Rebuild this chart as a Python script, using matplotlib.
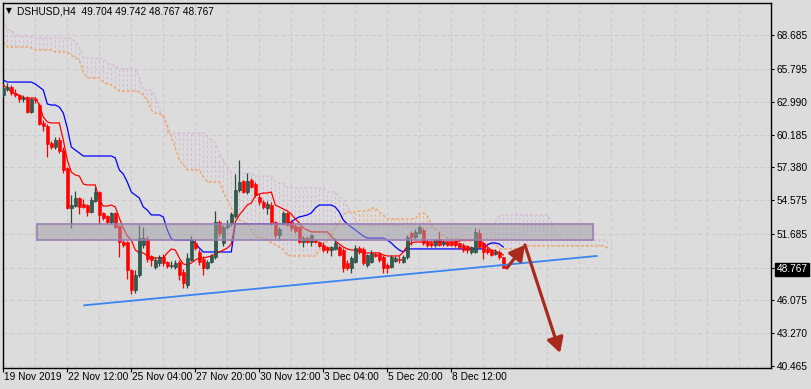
import matplotlib
matplotlib.use("Agg")
import matplotlib.pyplot as plt
import numpy as np
from matplotlib.patches import Rectangle, FancyArrowPatch
from matplotlib.transforms import blended_transform_factory

plt.rcParams['font.family'] = ['Liberation Sans', 'DejaVu Sans']
plt.rcParams['lines.scale_dashes'] = False

# ---- data (DSHUSD, H4) ----
opens = [63.56, 64.10, 64.25, 63.75, 63.55, 63.25, 63.30, 62.10, 63.20, 62.75,
         61.20, 60.95, 59.50, 59.15, 59.70, 58.90, 57.30, 53.90, 54.10, 54.80,
         54.30, 54.20, 53.60, 54.50, 55.30, 53.50, 53.20, 52.70, 53.50, 52.40,
         51.00, 51.00, 48.60, 46.90, 48.20, 50.80, 51.30, 49.80, 48.90, 49.20,
         49.70, 49.30, 49.00, 48.90, 49.30, 48.50, 47.35, 49.50, 50.90, 50.20,
         49.60, 48.80, 49.30, 49.70, 52.70, 50.90, 52.30, 52.60, 53.20, 55.50,
         56.20, 55.30, 56.30, 56.00, 54.90, 54.40, 53.90, 54.20, 52.70, 51.60,
         52.60, 53.50, 52.70, 52.40, 52.30, 51.00, 51.35, 51.00, 51.20, 51.00,
         50.80, 50.60, 50.30, 50.40, 50.60, 50.30, 49.20, 48.80, 49.30, 50.50,
         50.40, 49.10, 49.30, 50.00, 50.00, 49.75, 49.10, 48.90, 49.40, 49.55,
         49.35, 49.70, 51.80, 51.45, 51.80, 52.05, 51.00, 50.95, 50.75, 51.30,
         50.85, 51.00, 51.00, 51.10, 50.90, 50.80, 50.70, 50.20, 50.20, 51.80,
         50.90, 50.45, 50.30, 50.00, 50.20, 49.704]
highs = [64.30, 64.60, 64.40, 64.10, 63.60, 63.60, 63.50, 63.30, 63.40, 62.90,
         61.40, 61.10, 59.60, 60.00, 60.00, 59.10, 57.40, 55.00, 55.40, 54.90,
         54.70, 54.30, 54.90, 55.70, 55.40, 53.60, 53.30, 53.60, 53.60, 52.50,
         51.20, 51.10, 48.70, 48.60, 52.50, 52.30, 51.50, 49.90, 49.70, 49.90,
         50.00, 49.40, 49.40, 49.50, 49.50, 48.70, 50.10, 51.50, 51.20, 50.40,
         49.80, 49.50, 50.00, 53.70, 52.90, 52.50, 52.90, 53.60, 56.80, 58.00,
         56.30, 56.90, 56.50, 56.10, 55.10, 54.60, 54.50, 54.40, 52.80, 52.30,
         53.70, 53.60, 52.90, 52.60, 52.40, 51.50, 51.50, 51.70, 51.30, 51.10,
         51.00, 50.70, 50.70, 51.40, 50.80, 50.50, 49.50, 49.80, 50.80, 50.70,
         50.60, 50.00, 50.30, 50.20, 50.20, 49.90, 49.20, 49.90, 49.80, 49.80,
         49.90, 51.60, 52.00, 52.10, 52.45, 52.20, 51.20, 51.10, 51.30, 51.90,
         51.15, 51.10, 51.15, 51.20, 51.00, 50.90, 50.80, 50.70, 52.20, 52.10,
         51.00, 50.60, 50.40, 50.40, 50.30, 49.742]
lows = [63.40, 63.90, 63.60, 63.40, 63.00, 63.00, 62.00, 62.00, 62.90, 61.00,
        60.50, 58.30, 59.00, 59.00, 58.60, 56.90, 53.80, 52.20, 54.00, 53.40,
        53.90, 53.20, 53.50, 54.40, 52.60, 52.90, 52.60, 52.60, 52.20, 49.70,
        50.60, 47.90, 46.60, 46.70, 48.00, 50.50, 49.30, 49.00, 48.70, 49.00,
        49.00, 48.80, 48.80, 48.70, 47.80, 47.10, 47.10, 49.40, 50.30, 49.10,
        48.20, 48.70, 49.20, 49.60, 51.50, 50.70, 52.10, 52.40, 53.10, 55.30,
        55.20, 55.10, 55.60, 54.90, 54.20, 53.80, 53.40, 52.50, 51.40, 51.30,
        52.50, 52.40, 52.00, 51.80, 50.90, 50.60, 50.90, 50.70, 50.90, 50.60,
        50.20, 50.10, 49.80, 50.30, 49.80, 48.50, 48.60, 48.40, 49.20, 50.00,
        49.10, 48.90, 49.20, 49.70, 49.30, 48.40, 48.35, 48.80, 49.30, 49.25,
        49.20, 49.60, 50.80, 51.30, 51.70, 50.80, 50.60, 50.60, 50.60, 50.70,
        50.70, 50.65, 50.65, 50.60, 50.40, 50.20, 50.10, 50.00, 50.10, 50.50,
        49.60, 50.00, 49.80, 49.90, 49.60, 48.767]
closes = [64.16, 64.25, 63.70, 63.55, 63.20, 63.30, 62.10, 63.20, 63.10, 61.05,
          60.90, 59.40, 59.15, 59.70, 58.80, 57.20, 53.90, 54.20, 54.80, 54.00,
          54.05, 53.60, 54.60, 55.30, 53.30, 53.10, 52.70, 53.50, 52.30, 51.00,
          50.80, 48.60, 46.90, 48.20, 51.40, 51.40, 49.60, 49.50, 49.50, 49.70,
          49.20, 48.95, 49.10, 49.20, 48.20, 47.50, 49.66, 51.20, 50.50, 49.30,
          48.80, 49.30, 49.80, 52.70, 51.80, 52.30, 52.60, 53.40, 55.50, 56.10,
          55.30, 56.20, 55.70, 55.00, 54.40, 54.00, 54.30, 52.70, 51.60, 52.10,
          53.50, 52.50, 52.20, 52.00, 51.00, 51.35, 51.05, 51.60, 51.00, 50.70,
          50.35, 50.30, 50.60, 50.90, 49.90, 48.80, 48.80, 49.65, 50.50, 50.20,
          49.20, 49.90, 50.10, 49.85, 49.50, 48.80, 48.80, 49.75, 49.65, 49.45,
          49.75, 51.45, 51.45, 51.90, 52.30, 50.95, 50.75, 50.75, 51.20, 50.80,
          51.00, 50.80, 50.75, 50.75, 50.60, 50.35, 50.30, 50.60, 51.90, 50.60,
          50.20, 50.15, 49.90, 50.15, 49.75, 48.767]

tenkan = [64.42, 64.16, 63.82, 63.65, 63.56, 63.31, 63.31, 63.31, 63.31, 62.71,
          61.69, 61.26, 61.18, 61.18, 61.18, 59.73, 58.02, 56.99, 56.74, 56.65,
          55.97, 55.89, 55.89, 55.89, 54.61, 54.09, 54.09, 54.18, 54.01, 53.07,
          52.22, 51.53, 51.19, 50.34, 50.09, 50.09, 49.83, 49.66, 49.66, 49.66,
          49.66, 50.09, 50.43, 50.34, 49.66, 49.15, 49.06, 49.23, 49.49, 49.66,
          49.66, 49.74, 49.83, 50.00, 50.17, 50.34, 50.51, 50.85, 52.73, 53.33,
          53.75, 54.18, 54.35, 54.95, 55.12, 55.20, 55.20, 55.29, 54.18, 54.01,
          53.84, 53.67, 53.41, 52.99, 52.64, 52.22, 52.05, 51.88, 51.88, 51.88,
          51.88, 51.88, 51.53, 51.11, 50.85, 50.60, 50.43, 50.34, 50.34, 50.26,
          50.09, 50.09, 50.09, 50.09, 50.09, 49.92, 49.83, 49.83, 49.83, 49.83,
          50.17, 50.68, 50.94, 51.02, 51.02, 51.02, 51.02, 51.02, 51.02, 51.02,
          51.02, 51.02, 51.02, 51.02, 51.11, 51.19, 51.19, 51.19, 51.19, 51.19,
          50.94, 50.60, 50.34, 50.26, 50.09, 49.92]
kijun = [64.85, 64.67, 64.67, 64.67, 64.67, 64.67, 64.67, 64.67, 64.50, 64.25,
         63.99, 62.80, 62.71, 62.71, 62.54, 62.03, 60.75, 59.13, 58.87, 58.62,
         58.36, 58.36, 58.36, 58.36, 58.36, 58.36, 58.36, 58.36, 58.19, 57.17,
         56.82, 56.14, 55.29, 55.03, 54.78, 54.01, 53.75, 53.33, 53.33, 53.33,
         53.16, 52.05, 51.28, 51.19, 51.19, 51.19, 51.19, 51.19, 50.94, 50.51,
         50.17, 50.17, 50.17, 50.17, 50.17, 50.17, 50.17, 50.17, 52.56, 52.56,
         52.56, 52.56, 52.56, 52.56, 52.56, 52.56, 52.56, 52.56, 52.56, 52.56,
         52.56, 52.56, 52.73, 52.99, 53.16, 53.24, 53.33, 53.50, 53.92, 54.18,
         54.18, 54.18, 54.18, 54.01, 53.58, 52.90, 52.56, 52.30, 52.05, 51.79,
         51.53, 51.36, 51.36, 51.36, 51.36, 51.36, 51.19, 50.94, 50.60, 50.34,
         50.17, 50.43, 50.43, 50.43, 50.43, 50.43, 50.43, 50.43, 50.43, 50.43,
         50.43, 50.43, 50.43, 50.43, 50.43, 50.43, 50.43, 50.43, 50.43, 50.43,
         50.43, 50.77, 50.94, 50.94, 50.85, 50.60]

# senkou spans, already shifted 26 bars ahead (152 points)
span_a = [68.09, 67.66, 67.66, 67.66, 67.66, 67.66, 67.66, 67.58, 67.41, 67.41,
          67.41, 67.41, 67.41, 67.23, 67.23, 67.23, 67.23, 66.98, 66.72, 66.55,
          65.53, 65.02, 65.02, 65.02, 65.02, 64.67, 64.50, 64.42, 64.16, 63.90,
          63.90, 63.90, 63.90, 63.90, 63.82, 63.56, 63.14, 62.29, 62.03, 61.94,
          61.86, 61.00, 59.98, 59.04, 58.02, 57.59, 57.17, 57.17, 57.17, 57.17,
          56.57, 56.14, 56.14, 56.14, 56.14, 55.29, 54.61, 53.92, 53.33, 52.90,
          52.73, 52.56, 52.05, 51.53, 51.36, 51.36, 51.19, 50.94, 50.77, 50.60,
          50.34, 49.92, 49.83, 49.83, 49.83, 49.83, 49.83, 49.83, 49.83, 50.34,
          50.77, 51.11, 51.53, 52.22, 52.73, 53.33, 53.58, 53.58, 53.58, 53.67,
          53.67, 53.67, 53.92, 53.92, 53.58, 53.33, 52.99, 52.99, 52.99, 52.99,
          52.99, 52.99, 52.99, 52.99, 53.41, 53.50, 53.24, 52.56, 52.05, 51.79,
          51.53, 51.36, 51.36, 51.36, 51.36, 51.11, 51.11, 51.11, 51.11, 50.85,
          50.85, 50.85, 50.85, 50.85, 50.43, 50.43, 50.43, 50.43, 50.43, 50.43,
          50.68, 50.68, 50.68, 50.68, 50.68, 50.68, 50.68, 50.68, 50.68, 50.68,
          50.68, 50.68, 50.68, 50.68, 50.68, 50.68, 50.68, 50.68, 50.68, 50.68,
          50.68, 50.51]
span_b = [69.79, 69.11, 69.11, 68.69, 68.60, 68.60, 68.60, 68.60, 68.43, 68.43,
          68.43, 68.43, 68.43, 68.43, 68.43, 68.43, 68.43, 68.43, 68.09, 67.66,
          66.72, 66.72, 66.72, 66.72, 66.72, 66.72, 66.30, 66.13, 66.13, 65.78,
          65.78, 65.78, 65.78, 65.78, 65.10, 63.99, 63.99, 63.99, 63.39, 62.29,
          61.60, 60.32, 60.32, 60.32, 60.32, 60.32, 60.32, 60.32, 60.32, 60.32,
          60.32, 59.98, 59.73, 59.47, 58.62, 58.02, 57.33, 56.91, 56.91, 56.91,
          56.91, 56.91, 56.91, 56.65, 56.65, 56.65, 56.65, 56.65, 56.14, 56.06,
          56.06, 55.63, 55.63, 55.63, 55.63, 55.63, 55.63, 55.63, 55.63, 55.63,
          55.63, 55.29, 55.29, 55.29, 54.86, 54.61, 54.09, 53.50, 52.90, 52.39,
          52.39, 52.39, 52.39, 52.39, 52.39, 52.39, 52.39, 52.39, 52.39, 52.39,
          52.39, 52.22, 52.22, 52.22, 52.22, 52.22, 52.22, 52.22, 52.22, 52.22,
          52.22, 52.22, 52.22, 52.22, 52.22, 52.22, 52.22, 52.22, 52.22, 52.22,
          52.22, 52.22, 52.22, 52.73, 53.33, 53.33, 53.33, 53.33, 53.33, 53.33,
          53.33, 53.33, 53.33, 53.33, 53.33, 53.33, 53.33, 52.73, 52.05, 51.36,
          51.19, 51.19, 51.19, 51.19, 51.19, 51.19, 51.19, 51.19, 51.19, 51.19,
          51.19, 51.19]

date_bars = [0, 16, 32, 48, 64, 80, 96, 112]
date_labels = ['19 Nov 2019', '22 Nov 12:00', '25 Nov 04:00', '27 Nov 20:00',
               '30 Nov 12:00', '3 Dec 04:00', '5 Dec 20:00', '8 Dec 12:00']
price_ticks = [68.685, 65.795, 62.990, 60.185, 57.380, 54.575, 51.685,
               48.767, 46.075, 43.270, 40.465]
last_price = 48.767

# drawn objects (bar index / price)
zone_x = [8.4, 147.4]
zone_y = [51.19, 52.56]
trend_x = [20.25, 148.35]
trend_y = [45.62, 49.83]
arrow_up = [(125.9, 48.80), (130.4, 50.77)]
arrow_down = [(130.4, 50.77), (139.2, 41.55)]

BG = '#dcdcdc'
fig = plt.figure(figsize=(8.11, 3.89), dpi=100, facecolor=BG)
ax = fig.add_axes([3 / 811, 21 / 389, 768 / 811, 365 / 389])
ax.set_facecolor(BG)
ax.set_xlim(-0.075, 191.925)
ax.set_ylim(40.27, 71.416)

# grid
for g in range(0, 192, 8):
    ax.axvline(g, color='#cdc8cd', lw=0.7, ls=(0, (3, 2)), zorder=0)
for p in price_ticks:
    ax.axhline(p, color='#cdc8cd', lw=0.7, ls=(0, (3, 2)), zorder=0)

# ichimoku cloud
jj = np.arange(len(span_a))
a = np.array(span_a)
b = np.array(span_b)
up = a >= b
ax.vlines(jj[~up], a[~up], b[~up], colors='#d6bcd6', lw=0.75,
          linestyles=(0, (2, 1.5)), zorder=1)
ax.vlines(jj[up], b[up], a[up], colors='#f2b88a', lw=0.75,
          linestyles=(0, (2, 1.5)), zorder=1)
ax.plot(jj, b, color='#d6bcd6', lw=1.0, ls=(0, (2, 1.5)), zorder=2)
ax.plot(jj, a, color='#f4a460', lw=1.0, ls=(0, (2, 1.5)), zorder=2)

# tenkan / kijun
ii = np.arange(len(closes))
ax.plot(ii, kijun, color='#0000ff', lw=0.9, zorder=3)
ax.plot(ii, tenkan, color='#ff0000', lw=0.9, zorder=3)

# candles
o = np.array(opens)
h = np.array(highs)
l = np.array(lows)
c = np.array(closes)
bull = c >= o
wick_col = np.where(bull, '#2a4a40', '#ff0000')
ax.vlines(ii, l, h, colors=wick_col, lw=0.9, zorder=4)
body_lo = np.minimum(o, c)
body_h = np.maximum(np.abs(c - o), 0.06)
ax.bar(ii[bull], body_h[bull], bottom=body_lo[bull], width=0.75,
       color='#2f5d4e', edgecolor='#1f3c33', linewidth=0.4, zorder=5)
ax.bar(ii[~bull], body_h[~bull], bottom=body_lo[~bull], width=0.75,
       color='#ff0000', edgecolor='#ff0000', linewidth=0.4, zorder=5)

# resistance zone
for k, al in [(1.2, 0.06), (0.6, 0.08)]:
    ax.add_patch(Rectangle((zone_x[0] - k * 0.5, zone_y[0] - k * 0.1),
                           zone_x[1] - zone_x[0] + k, zone_y[1] - zone_y[0] + k * 0.2,
                           facecolor='#707078', edgecolor='none', alpha=al, zorder=6))
ax.add_patch(Rectangle((zone_x[0], zone_y[0]), zone_x[1] - zone_x[0],
                       zone_y[1] - zone_y[0], facecolor='#a8a8b0', alpha=0.45,
                       edgecolor='none', zorder=6))
ax.add_patch(Rectangle((zone_x[0], zone_y[0]), zone_x[1] - zone_x[0],
                       zone_y[1] - zone_y[0], facecolor='none',
                       edgecolor='#9a7ab4', lw=1.1, zorder=7))

# trend line
ax.plot(trend_x, trend_y, color='#3a84f2', lw=1.3, zorder=7)

# arrows
for (p0, p1) in [arrow_up, arrow_down]:
    ax.add_patch(FancyArrowPatch(p0, p1, arrowstyle='-|>,head_length=9,head_width=5',
                                 mutation_scale=1, lw=2.3, color='#a82a1e',
                                 shrinkA=0, shrinkB=0, zorder=8))

# axes, ticks
for s in ax.spines.values():
    s.set_color('black')
    s.set_linewidth(1.0)
ax.yaxis.tick_right()
ax.set_yticks(price_ticks)
ax.set_yticklabels(['%.3f' % p for p in price_ticks])
ax.tick_params(axis='y', right=True, left=False, length=2.5, width=0.8,
               pad=1.4, labelsize=7.3, colors='black')
for t in ax.yaxis.get_major_ticks():
    if abs(t.get_loc() - last_price) < 1e-6:
        t.label2.set_color('white')
        t.label2.set_bbox(dict(facecolor='black', edgecolor='black', pad=1.0))

ax.set_xticks(date_bars)
ax.set_xticklabels([])
ax.tick_params(axis='x', length=3, width=0.8, colors='black')
tr = blended_transform_factory(ax.transData, ax.transAxes)
for xb, lab in zip(date_bars, date_labels):
    ax.text(xb + 0.2, -0.025, lab, transform=tr, ha='left', va='center',
            fontsize=7.3, color='black')

# header
fig.text(6 / 811, 1 - 11 / 389, '\u25bc', fontsize=5.5, va='center', ha='left',
         family=['DejaVu Sans'])
fig.text(17 / 811, 1 - 11 / 389, 'DSHUSD,H4  49.704 49.742 48.767 48.767',
         fontsize=7.3, va='center', ha='left', color='black')

fig.savefig('out.png', dpi=100, facecolor=BG)
